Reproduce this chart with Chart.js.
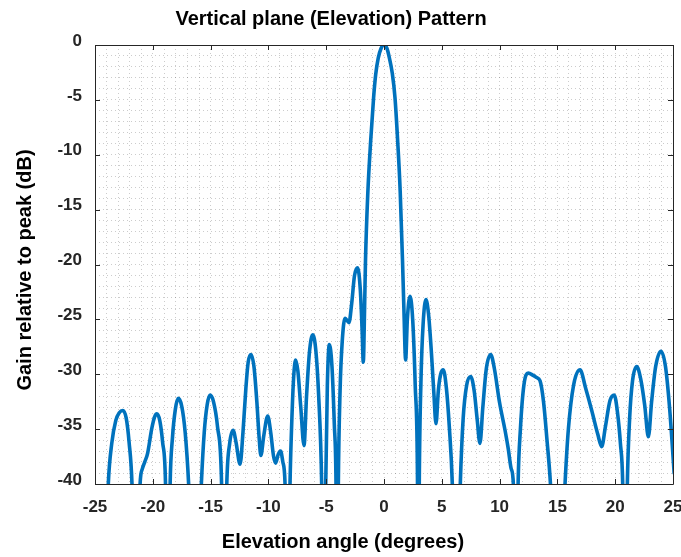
<!DOCTYPE html>
<html>
<head>
<meta charset="utf-8">
<script src="https://cdn.jsdelivr.net/npm/chart.js@4.4.1/dist/chart.umd.min.js"></script>
<style>
html,body{margin:0;padding:0;background:#fff;}
#wrap{width:681px;height:557px;position:relative;}
</style>
</head>
<body>
<div id="wrap"><canvas id="c" width="681" height="557"></canvas></div>
<script>
const chartTitle = "Vertical plane (Elevation) Pattern";
const xAxisTitle = "Elevation angle (degrees)";
const yAxisTitle = "Gain relative to peak (dB)";
const xTickLabels = [-25,-20,-15,-10,-5,0,5,10,15,20,25];
const yTickLabels = [0,-5,-10,-15,-20,-25,-30,-35,-40];

const elevationDeg = [
-24.3,
-23.85,-23.55,-23.2,-22.9,-22.6,-22.3,-22.05,-21.8,
-21.45,
-21.1,-20.9,-20.7,-20.45,-20.1,-19.85,-19.65,-19.4,-19.15,-18.9,
-18.7,
-18.5,-18.3,-18.05,-17.8,-17.5,-17.2,-16.9,
-16.35,
-15.8,-15.55,-15.3,-15.05,-14.75,-14.4,-14.05,
-13.85,
-13.6,-13.35,-13.05,-12.8,-12.45,-12.2,-11.95,-11.75,-11.5,-11.25,-11.0,-10.8,-10.65,-10.4,-10.06,-9.8,-9.55,-9.37,-9.15,-8.94,-8.75,-8.56,
-8.35,
-8.13,-7.95,-7.8,-7.64,-7.45,-7.2,-6.92,-6.7,-6.45,-6.17,-5.9,-5.65,-5.39,
-5.2,
-5.04,-4.9,-4.73,-4.5,-4.3,-4.15,
-4.05,
-3.95,-3.8,-3.6,-3.37,-3.2,-3.03,-2.8,-2.55,-2.28,-2.05,-1.9,-1.79,-1.68,-1.6,-1.4,-1.15,-0.9,-0.72,-0.5,-0.25,0,0.25,0.45,0.72,0.95,1.18,1.4,1.6,1.72,1.87,2.02,2.25,2.48,2.7,2.9,
2.97,
3.05,3.2,3.38,3.63,3.85,4.1,4.3,4.5,4.7,4.9,5.13,5.4,5.65,5.91,
6.25,
6.6,6.85,7.15,7.5,7.8,8.05,8.3,8.55,8.85,9.23,9.55,10.0,10.47,10.75,11.0,11.19,
11.4,
11.6,11.8,12.1,12.48,12.9,13.2,13.5,13.8,14.1,14.4,
15.05,
15.66,15.95,16.4,16.96,17.45,17.97,18.5,18.83,19.15,19.55,19.92,20.2,20.45,20.65,
20.85,
21.05,21.25,21.5,21.86,22.2,22.55,22.87,23.15,23.5,23.96,24.35,24.7,25.1
];
const gainDb = [
-55,
-40,-36.3,-34.2,-33.5,-33.3,-34.0,-36.2,-40,
-55,
-40,-38.6,-38.0,-37.2,-35.0,-33.9,-33.6,-34.2,-36.2,-40,
-55,
-40,-35.8,-33.2,-32.2,-32.9,-35.3,-40,
-55,
-40,-35.3,-32.8,-31.9,-32.5,-34.8,-40,
-55,
-40,-36.3,-35.1,-36.2,-38.2,-35.3,-31.3,-28.9,-28.2,-29.3,-32.5,-35.8,-37.4,-35.6,-33.8,-35.3,-37.5,-38.1,-37.3,-37.0,-38.0,-40,
-55,
-40,-33.5,-30.0,-28.7,-29.7,-33.0,-36.5,-32.0,-28.0,-26.4,-27.8,-32.0,-40,
-55,
-40,-31.0,-27.3,-29.3,-34.5,-40,
-55,
-40,-31.5,-26.8,-24.9,-25.1,-25.3,-23.6,-21.0,-20.3,-22.3,-25.8,-28.9,-24.0,-19.6,-13.5,-8.7,-4.8,-2.7,-1.2,-0.3,0,-0.3,-1.1,-2.6,-4.8,-8.7,-13.3,-19.6,-24.0,-28.7,-25.0,-22.9,-25.0,-31.0,-40,
-55,
-40,-30.5,-25.5,-23.2,-24.5,-28.0,-31.5,-34.5,-31.5,-30.0,-29.6,-31.3,-34.8,-40,
-55,
-40,-34.0,-31.0,-30.2,-31.5,-34.0,-36.3,-33.0,-29.5,-28.2,-29.5,-32.6,-35.1,-36.8,-38.6,-40,
-55,
-40,-35.0,-31.0,-29.9,-30.1,-30.3,-30.6,-32.5,-36.0,-40,
-55,
-40,-35.0,-31.0,-29.6,-31.3,-33.3,-35.5,-36.6,-34.8,-32.4,-31.9,-33.5,-36.3,-40,
-55,
-40,-34.0,-30.6,-29.3,-30.4,-32.8,-35.7,-32.5,-29.3,-27.9,-29.3,-33.0,-39.0
];

const FONT = '"Liberation Sans", Arial, Helvetica, sans-serif';
const AXC = '#262626';

const pts = elevationDeg.map((x, i) => ({x: x, y: gainDb[i]}));

const framePlugin = {
  id: 'frame',
  afterDraw(chart) {
    const ctx = chart.ctx;
    const a = chart.chartArea;
    const xs = chart.scales.x, ys = chart.scales.y;
    ctx.save();
    ctx.strokeStyle = AXC;
    ctx.lineWidth = 1;
    ctx.beginPath();
    ctx.rect(Math.round(a.left) + 0.5, Math.round(a.top) + 0.5, Math.round(a.right - a.left), Math.round(a.bottom - a.top));
    ctx.stroke();
    const tl = 5;
    ctx.beginPath();
    xTickLabels.forEach(v => {
      const px = Math.round(xs.getPixelForValue(v)) + 0.5;
      ctx.moveTo(px, a.bottom); ctx.lineTo(px, a.bottom - tl);
      ctx.moveTo(px, a.top); ctx.lineTo(px, a.top + tl);
    });
    yTickLabels.forEach(v => {
      const py = Math.round(ys.getPixelForValue(v)) + 0.5;
      ctx.moveTo(a.left, py); ctx.lineTo(a.left + tl, py);
      ctx.moveTo(a.right, py); ctx.lineTo(a.right - tl, py);
    });
    ctx.stroke();
    // titles
    ctx.fillStyle = '#000';
    ctx.font = 'bold 20px ' + FONT;
    ctx.textAlign = 'center';
    ctx.textBaseline = 'alphabetic';
    ctx.fillText(chartTitle, 331, 25);
    ctx.textBaseline = 'middle';
    ctx.fillText(xAxisTitle, 343, 542);
    ctx.translate(25, 270);
    ctx.rotate(-Math.PI / 2);
    ctx.fillText(yAxisTitle, 0, 0);
    ctx.restore();
  }
};

new Chart(document.getElementById('c'), {
  type: 'line',
  data: {
    datasets: [{
      data: pts,
      borderColor: 'rgb(0,114,189)',
      borderWidth: 3.6,
      pointRadius: 0,
      fill: false,
      cubicInterpolationMode: 'monotone',
      borderJoinStyle: 'round',
      borderCapStyle: 'round'
    }]
  },
  options: {
    responsive: false,
    animation: false,
    parsing: true,
    layout: {padding: {top: 45, right: 8, left: 0, bottom: 0}},
    plugins: {legend: {display: false}, title: {display: false}, tooltip: {enabled: false}},
    scales: {
      x: {
        type: 'linear',
        min: -25, max: 25,
        afterFit(s) { s.height = 73; s.paddingLeft = 0; s.paddingRight = 0; },
        border: {display: false, dash: [1, 3]},
        grid: {color: 'rgba(0,0,0,0.2)', lineWidth: 1, drawTicks: false},
        ticks: {
          stepSize: 1, autoSkip: false, maxRotation: 0, padding: 13,
          color: AXC, font: {family: FONT, size: 17, weight: 'bold'},
          callback: v => xTickLabels.includes(v) ? String(v) : ''
        }
      },
      y: {
        type: 'linear',
        min: -40, max: 0,
        afterFit(s) { s.width = 95; s.paddingTop = 0; s.paddingBottom = 0; },
        border: {display: false, dash: [1, 3]},
        grid: {color: 'rgba(0,0,0,0.2)', lineWidth: 1, drawTicks: false},
        ticks: {
          stepSize: 1, autoSkip: false, padding: 13, labelOffset: -4,
          color: AXC, font: {family: FONT, size: 17, weight: 'bold'},
          callback: v => yTickLabels.includes(v) ? String(v) : ''
        }
      }
    }
  },
  plugins: [framePlugin]
});
</script>
</body>
</html>
